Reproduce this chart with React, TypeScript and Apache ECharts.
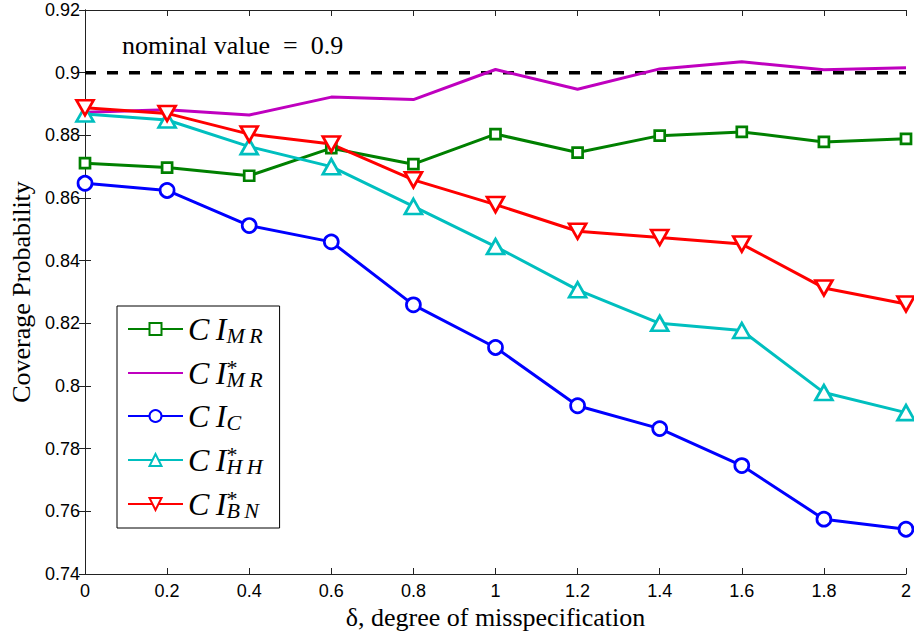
import React, { useEffect, useRef } from "react";
import * as echarts from "echarts";

const deltas = [0, 0.2, 0.4, 0.6, 0.8, 1.0, 1.2, 1.4, 1.6, 1.8, 2.0];
const ciMR = [0.8711, 0.8697, 0.8671, 0.8759, 0.8708, 0.8804, 0.8745, 0.8799, 0.8811, 0.8779, 0.8789];
const ciMRStar = [0.8874, 0.8882, 0.8865, 0.8922, 0.8914, 0.901, 0.8947, 0.9012, 0.9035, 0.9009, 0.9016];
const ciC = [0.8647, 0.8624, 0.8512, 0.846, 0.8259, 0.8123, 0.7937, 0.7864, 0.7746, 0.7575, 0.7543];
const ciHH = [0.8868, 0.8849, 0.8764, 0.870, 0.8573, 0.8445, 0.8307, 0.82, 0.8177, 0.7979, 0.7915];
const ciBN = [0.8888, 0.887, 0.8804, 0.8772, 0.8658, 0.8579, 0.8494, 0.8474, 0.8453, 0.8313, 0.8262];
const nominal = 0.9;
const seriesNames = ["CI_MR", "CI*_MR", "CI_C", "CI*_HH", "CI*_BN"];
const legendRich: Record<string, string> = {
  "CI_MR": "{m|C\u2009I}{s|M\u2009R}",
  "CI*_MR": "{m|C\u2009I}{p|*}{s|M\u2009R}",
  "CI_C": "{m|C\u2009I}{s|C}",
  "CI*_HH": "{m|C\u2009I}{p|*}{s|H\u2009H}",
  "CI*_BN": "{m|C\u2009I}{p|*}{s|B\u2009N}",
};

const pairs = (ys: number[]) => deltas.map((x, i) => [x, ys[i]]);

const SERIF = "'Liberation Serif', 'Times New Roman', serif";
const SANS = "'Liberation Sans', Arial, Helvetica, sans-serif";

export default function App() {
  const ref = useRef<HTMLDivElement>(null);
  useEffect(() => {
    document.body.style.margin = "0";
    if (!ref.current) return;
    const chart = echarts.init(ref.current, undefined, { renderer: "svg" });
    const markerSeries = (name: string, ys: number[], color: string, symbol: string, size: any) => ({
      name,
      type: "line",
      data: pairs(ys),
      symbol,
      symbolSize: size,
      showSymbol: true,
      lineStyle: { color, width: 3 },
      itemStyle: { color: "#fff", borderColor: color, borderWidth: 2.7 },
      z: 3,
    });
    const axisCommon = {
      axisLine: { show: true, lineStyle: { color: "#222", width: 1 } },
      axisTick: { show: true, inside: true, length: 6, lineStyle: { color: "#222", width: 1 } },
      splitLine: { show: false },
    };
    chart.setOption({
      animation: false,
      backgroundColor: "#fff",
      grid: { left: 85, right: 8, top: 10, bottom: 57, containLabel: false, outerBoundsMode: "none" },
      xAxis: [
        {
          type: "value",
          min: 0,
          max: 2,
          interval: 0.2,
          position: "bottom",
          ...axisCommon,
          axisLabel: { color: "#000", fontFamily: SANS, fontSize: 18, margin: 8 },
          name: "\u03b4, degree of misspecification",
          nameLocation: "middle",
          nameGap: 25,
          nameTextStyle: { color: "#000", fontFamily: SERIF, fontSize: 26 },
        },
        {
          type: "value",
          min: 0,
          max: 2,
          interval: 0.2,
          position: "top",
          ...axisCommon,
          axisLabel: { show: false },
        },
      ],
      yAxis: [
        {
          type: "value",
          min: 0.74,
          max: 0.92,
          interval: 0.02,
          position: "left",
          ...axisCommon,
          axisLabel: { color: "#000", fontFamily: SANS, fontSize: 18, margin: 5 },
          name: "Coverage Probability",
          nameLocation: "middle",
          nameGap: 50,
          nameTextStyle: { color: "#000", fontFamily: SERIF, fontSize: 26 },
        },
        {
          type: "value",
          min: 0.74,
          max: 0.92,
          interval: 0.02,
          position: "right",
          ...axisCommon,
          axisLabel: { show: false },
        },
      ],
      legend: {
        orient: "vertical",
        left: 117,
        top: 306,
        data: seriesNames,
        itemWidth: 55,
        itemHeight: 15,
        itemGap: 10,
        padding: [7, 17, 7, 10],
        backgroundColor: "#fff",
        borderColor: "#000",
        borderWidth: 1,
        borderRadius: 0,
        selectedMode: false,
        formatter: (name: string) => legendRich[name] || name,
        textStyle: {
          color: "#000",
          rich: {
            m: { fontFamily: SERIF, fontStyle: "italic", fontSize: 32, lineHeight: 34, color: "#000" },
            s: { fontFamily: SERIF, fontStyle: "italic", fontSize: 22, lineHeight: 20, verticalAlign: "bottom", color: "#000" },
            p: { fontFamily: SERIF, fontSize: 22, lineHeight: 22, verticalAlign: "top", padding: [0, -11, 0, 0], color: "#000" },
          },
        },
      },
      graphic: [
        {
          type: "text",
          left: 122,
          top: 32,
          style: { text: "nominal value  =  0.9", fontFamily: SERIF, fontSize: 26, fill: "#000" },
          z: 10,
        },
      ],
      series: [
        {
          name: "nominal",
          type: "line",
          data: [[0, nominal], [2, nominal]],
          symbol: "none",
          lineStyle: { color: "#000", width: 3.5, type: [11, 11] },
          z: 2,
          silent: true,
        },
        markerSeries("CI_MR", ciMR, "#008000", "rect", 10),
        {
          name: "CI*_MR",
          type: "line",
          data: pairs(ciMRStar),
          symbol: "circle",
          showSymbol: false,
          lineStyle: { color: "#bf00bf", width: 3 },
          itemStyle: { color: "rgba(0,0,0,0)", borderWidth: 0 },
          z: 3,
        },
        markerSeries("CI_C", ciC, "#0000ff", "circle", 14),
        markerSeries("CI*_HH", ciHH, "#00bfbf", "triangle", [17, 15]),
        markerSeries("CI*_BN", ciBN, "#ff0000", "path://M0,0L20,0L10,17Z", [17, 15]),
      ],
    });
    return () => chart.dispose();
  }, []);
  return <div ref={ref} style={{ width: 914, height: 631 }} />;
}
